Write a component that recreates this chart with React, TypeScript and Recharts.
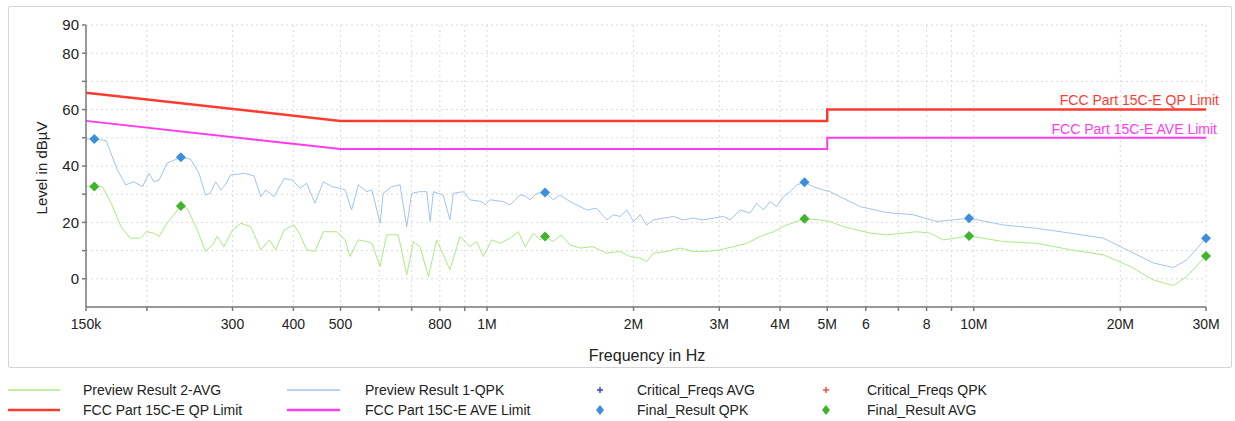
import { ComposedChart, Line, Scatter, XAxis, YAxis, CartesianGrid, Label } from 'recharts';

// frequencies in MHz, levels in dBµV
const qpkFreq = [
  0.15, 0.156, 0.165, 0.174, 0.181, 0.188, 0.196, 0.202, 0.207, 0.212, 0.22, 0.235, 0.246, 0.256, 0.264, 0.27,
  0.277, 0.284, 0.29, 0.297, 0.317, 0.332, 0.343, 0.351, 0.365, 0.383, 0.398, 0.413, 0.426, 0.443, 0.461, 0.48,
  0.499, 0.511, 0.527, 0.544, 0.566, 0.58, 0.603, 0.612, 0.637, 0.663, 0.666, 0.684, 0.7, 0.728, 0.752, 0.764,
  0.776, 0.813, 0.839, 0.853, 0.894, 0.923, 0.975, 0.991, 1.014, 1.08, 1.115, 1.169, 1.197, 1.226, 1.265, 1.316,
  1.368, 1.412, 1.481, 1.553, 1.603, 1.68, 1.762, 1.818, 1.876, 1.937, 2.0, 2.063, 2.129, 2.196, 2.302, 2.415,
  2.532, 2.654, 2.782, 2.917, 3.06, 3.158, 3.31, 3.471, 3.582, 3.696, 3.815, 3.94, 4.062, 4.193, 4.328, 4.49,
  4.682, 4.909, 5.067, 5.313, 5.84, 6.626, 7.515, 8.394, 9.078, 9.78, 11.5, 13.47, 15.78, 18.47, 20.96, 23.39,
  25.71, 27.39, 30,
];
const qpkLevel = [
  49.6, 49.6, 49.0, 38.6, 33.3, 34.4, 32.7, 37.4, 34.4, 35.0, 41.0, 43.1, 42.4, 37.4, 29.7, 30.3,
  34.4, 31.5, 33.3, 36.8, 37.4, 36.5, 29.1, 31.5, 29.1, 35.6, 35.0, 32.1, 33.9, 26.8, 34.4, 32.7,
  32.1, 31.5, 24.4, 33.3, 30.9, 31.5, 19.7, 30.3, 32.7, 33.3, 30.9, 18.5, 30.3, 30.9, 30.9, 20.3,
  30.9, 29.7, 20.9, 30.3, 30.9, 28.0, 27.4, 26.2, 28.0, 27.4, 26.2, 29.7, 29.4, 28.0, 30.3, 30.6,
  28.0, 29.7, 27.4, 25.6, 24.4, 25.0, 20.9, 22.7, 22.1, 24.4, 20.3, 22.7, 19.1, 20.9, 21.5, 22.1,
  20.9, 21.5, 20.9, 21.5, 22.1, 20.9, 24.4, 23.3, 26.8, 24.4, 27.4, 25.6, 29.1, 30.9, 33.3, 34.2,
  32.7, 31.5, 30.9, 29.1, 25.6, 23.5, 22.7, 20.3, 20.9, 21.5, 19.1, 17.9, 16.2, 14.4, 9.7, 5.6,
  4.0, 6.7, 14.4,
];

const avgFreq = [
  0.15, 0.156, 0.162, 0.169, 0.177, 0.185, 0.194, 0.2, 0.207, 0.212, 0.22, 0.235, 0.242, 0.254, 0.264, 0.273,
  0.279, 0.288, 0.3, 0.312, 0.327, 0.343, 0.357, 0.368, 0.383, 0.401, 0.413, 0.426, 0.443, 0.461, 0.491, 0.511,
  0.523, 0.544, 0.566, 0.58, 0.603, 0.622, 0.657, 0.666, 0.684, 0.706, 0.728, 0.758, 0.788, 0.839, 0.88, 0.923,
  0.952, 0.983, 1.023, 1.064, 1.115, 1.16, 1.197, 1.245, 1.285, 1.316, 1.368, 1.42, 1.481, 1.553, 1.65, 1.762,
  1.876, 1.967, 2.063, 2.129, 2.196, 2.34, 2.492, 2.654, 2.827, 3.012, 3.207, 3.417, 3.639, 3.875, 4.128, 4.49,
  4.832, 5.067, 5.397, 6.123, 6.626, 7.637, 8.133, 8.661, 9.78, 11.5, 13.47, 15.78, 18.47, 20.96, 23.39, 25.71,
  27.39, 30,
];
const avgLevel = [
  32.7, 32.7, 32.7, 26.8, 18.5, 14.4, 14.4, 16.7, 16.2, 15.0, 19.7, 25.8, 25.0, 17.3, 9.7, 12.0,
  15.0, 11.4, 17.3, 19.7, 18.5, 10.3, 13.8, 10.3, 17.3, 19.1, 15.6, 10.3, 9.7, 16.7, 16.7, 13.8,
  7.9, 13.8, 13.2, 12.6, 4.4, 15.6, 15.6, 10.9, 1.4, 13.2, 11.4, 0.8, 13.8, 3.2, 15.0, 11.4,
  13.2, 7.9, 13.8, 12.6, 14.4, 16.7, 11.4, 16.2, 13.8, 15.0, 13.2, 15.6, 12.0, 10.9, 11.4, 9.1,
  9.7, 7.9, 7.3, 6.1, 9.1, 9.7, 10.9, 9.7, 9.7, 10.3, 11.4, 12.6, 15.0, 16.7, 19.1, 21.3,
  20.9, 20.3, 18.5, 16.2, 15.6, 16.7, 16.2, 13.8, 15.2, 13.2, 12.6, 10.3, 8.5, 4.4, -0.4, -2.4,
  0.8, 8.1,
];

const limitFreq = [0.15, 0.5, 5, 5, 30];
const qpLimit = [66, 56, 56, 60, 60];
const aveLimit = [56, 46, 46, 50, 50];

const finalFreq = [0.156, 0.235, 1.316, 4.49, 9.78, 30];
const finalQpk = [49.6, 43.1, 30.6, 34.2, 21.5, 14.4];
const finalAvg = [32.7, 25.8, 15.0, 21.3, 15.2, 8.1];

const xTicks = [0.15, 0.2, 0.3, 0.4, 0.5, 0.6, 0.7, 0.8, 0.9, 1, 2, 3, 4, 5, 6, 7, 8, 9, 10, 20, 30];
const xTickLabels = ['150k', '', '300', '400', '500', '', '', '800', '', '1M', '2M', '3M', '4M', '5M', '6', '', '8', '', '10M', '20M', '30M'];
const yTicks = [0, 10, 20, 30, 40, 50, 60, 70, 80, 90];
const yTickLabels = ['0', '', '20', '', '40', '', '60', '', '80', '90'];

const zip = (f: number[], v: number[]) => f.map((x, i) => ({ f: x, v: v[i] }));

const FONT = '"Liberation Sans", Arial, sans-serif';

const C = {
  qpk: '#a3c3ec',
  avg: '#ade982',
  qp: '#ff3b30',
  ave: '#ff3cf0',
  qpkMark: '#3b8fdc',
  avgMark: '#3fb52c',
};

const diamond = (color: string) => (props: any) => {
  const { cx, cy } = props;
  const r = 5;
  return <polygon points={`${cx},${cy - r} ${cx + r},${cy} ${cx},${cy + r} ${cx - r},${cy}`} fill={color} />;
};

const legendText = { position: 'absolute' as const, fontFamily: FONT, fontSize: 14, color: '#222', lineHeight: '16px' };

export default function App() {
  return (
    <div style={{ position: 'absolute', left: 0, top: 0, width: 1235, height: 421, background: '#fff', fontFamily: FONT }}>
      <div style={{ position: 'absolute', left: 8, top: 6, width: 1222, height: 360, border: '1px solid #d4d4d4', borderRadius: 2 }} />
      <div style={{ position: 'absolute', left: 0, top: 0 }}>
        <ComposedChart width={1235} height={368} margin={{ top: 25, right: 29, left: 0, bottom: 0 }}>
          <CartesianGrid stroke="#dadada" strokeDasharray="2 3" />
          <XAxis
            dataKey="f"
            type="number"
            scale="log"
            domain={[0.15, 30]}
            ticks={xTicks}
            interval={0}
            height={61}
            tickSize={4}
            tickMargin={8}
            stroke="#7a7a7a"
            strokeWidth={1.5}
            tick={{ fill: '#222', fontSize: 14, fontFamily: FONT }}
            tickFormatter={(v: number) => xTickLabels[xTicks.indexOf(v)] ?? ''}
          >
            <Label
              content={() => (
                <text x={647} y={355} textAnchor="middle" dominantBaseline="central" fontSize={16} fill="#222" fontFamily={FONT}>
                  Frequency in Hz
                </text>
              )}
            />
          </XAxis>
          <YAxis
            type="number"
            domain={[-10, 90]}
            ticks={yTicks}
            interval={0}
            width={86}
            tickSize={4}
            tickMargin={3}
            stroke="#7a7a7a"
            strokeWidth={1.5}
            tick={{ fill: '#222', fontSize: 15, fontFamily: FONT }}
            tickFormatter={(v: number) => yTickLabels[yTicks.indexOf(v)] ?? ''}
          >
            <Label
              content={() => (
                <text x={41} y={168} transform="rotate(-90 41 168)" textAnchor="middle" dominantBaseline="central" fontSize={15} fill="#222" fontFamily={FONT}>
                  Level in dBµV
                </text>
              )}
            />
          </YAxis>
          <Line data={zip(qpkFreq, qpkLevel)} dataKey="v" type="linear" stroke={C.qpk} strokeWidth={1} dot={false} isAnimationActive={false} />
          <Line data={zip(avgFreq, avgLevel)} dataKey="v" type="linear" stroke={C.avg} strokeWidth={1} dot={false} isAnimationActive={false} />
          <Line data={zip(limitFreq, qpLimit)} dataKey="v" type="linear" stroke={C.qp} strokeWidth={2.5} dot={false} isAnimationActive={false} />
          <Line data={zip(limitFreq, aveLimit)} dataKey="v" type="linear" stroke={C.ave} strokeWidth={2} dot={false} isAnimationActive={false} />
          <Scatter data={zip(finalFreq, finalQpk)} dataKey="v" shape={diamond(C.qpkMark)} isAnimationActive={false} />
          <Scatter data={zip(finalFreq, finalAvg)} dataKey="v" shape={diamond(C.avgMark)} isAnimationActive={false} />
        </ComposedChart>
      </div>

      <div style={{ ...legendText, right: 16, top: 92, color: C.qp }}>FCC Part 15C-E QP Limit</div>
      <div style={{ ...legendText, right: 18, top: 121, color: C.ave }}>FCC Part 15C-E AVE Limit</div>

      <svg style={{ position: 'absolute', left: 0, top: 370 }} width={1235} height={51}>
        <line x1={8} x2={60} y1={20} y2={20} stroke={C.avg} strokeWidth={1.5} />
        <line x1={8} x2={60} y1={40} y2={40} stroke={C.qp} strokeWidth={2.5} />
        <line x1={287} x2={340} y1={20} y2={20} stroke={C.qpk} strokeWidth={1.5} />
        <line x1={287} x2={340} y1={40} y2={40} stroke={C.ave} strokeWidth={2.5} />
        <path d="M597,20 h6 M600,17 v6" stroke="#3b3bdc" strokeWidth={1.5} />
        <polygon points="600,35 604,40 600,45 596,40" fill={C.qpkMark} />
        <path d="M823,20 h6 M826,17 v6" stroke="#ff4a4a" strokeWidth={1.5} />
        <polygon points="826,35 830,40 826,45 822,40" fill={C.avgMark} />
      </svg>
      <div style={{ ...legendText, left: 83, top: 382 }}>Preview Result 2-AVG</div>
      <div style={{ ...legendText, left: 83, top: 402 }}>FCC Part 15C-E QP Limit</div>
      <div style={{ ...legendText, left: 365, top: 382 }}>Preview Result 1-QPK</div>
      <div style={{ ...legendText, left: 365, top: 402 }}>FCC Part 15C-E AVE Limit</div>
      <div style={{ ...legendText, left: 637, top: 382 }}>Critical_Freqs AVG</div>
      <div style={{ ...legendText, left: 637, top: 402 }}>Final_Result QPK</div>
      <div style={{ ...legendText, left: 867, top: 382 }}>Critical_Freqs QPK</div>
      <div style={{ ...legendText, left: 867, top: 402 }}>Final_Result AVG</div>
    </div>
  );
}
